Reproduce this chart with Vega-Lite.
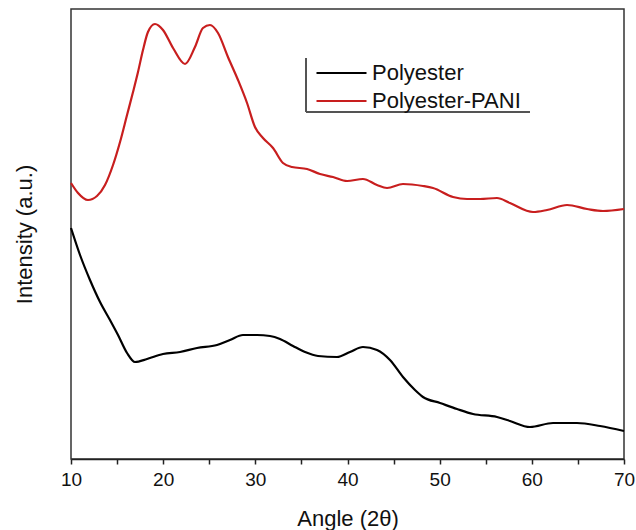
{
  "$schema": "https://vega.github.io/schema/vega-lite/v6.json",
  "width": 553,
  "height": 450,
  "autosize": {"type": "none"},
  "padding": {"left": 71, "top": 9, "right": 12, "bottom": 71},
  "background": "white",
  "config": {
    "view": {"stroke": "#333333", "strokeWidth": 1.5},
    "font": "Liberation Sans"
  },
  "data": {
    "values": [
      {"angle": 10.00, "intensity": 276, "sample": "Polyester-PANI"},
      {"angle": 10.76, "intensity": 266, "sample": "Polyester-PANI"},
      {"angle": 11.84, "intensity": 259, "sample": "Polyester-PANI"},
      {"angle": 12.82, "intensity": 263, "sample": "Polyester-PANI"},
      {"angle": 13.69, "intensity": 274, "sample": "Polyester-PANI"},
      {"angle": 14.56, "intensity": 294, "sample": "Polyester-PANI"},
      {"angle": 15.32, "intensity": 317, "sample": "Polyester-PANI"},
      {"angle": 16.08, "intensity": 344, "sample": "Polyester-PANI"},
      {"angle": 16.73, "intensity": 367, "sample": "Polyester-PANI"},
      {"angle": 17.27, "intensity": 387, "sample": "Polyester-PANI"},
      {"angle": 17.81, "intensity": 409, "sample": "Polyester-PANI"},
      {"angle": 18.35, "intensity": 427, "sample": "Polyester-PANI"},
      {"angle": 19.11, "intensity": 435, "sample": "Polyester-PANI"},
      {"angle": 19.98, "intensity": 429, "sample": "Polyester-PANI"},
      {"angle": 21.07, "intensity": 411, "sample": "Polyester-PANI"},
      {"angle": 22.37, "intensity": 395, "sample": "Polyester-PANI"},
      {"angle": 23.45, "intensity": 412, "sample": "Polyester-PANI"},
      {"angle": 24.32, "intensity": 431, "sample": "Polyester-PANI"},
      {"angle": 25.08, "intensity": 434, "sample": "Polyester-PANI"},
      {"angle": 25.95, "intensity": 426, "sample": "Polyester-PANI"},
      {"angle": 27.03, "intensity": 402, "sample": "Polyester-PANI"},
      {"angle": 28.12, "intensity": 379, "sample": "Polyester-PANI"},
      {"angle": 29.10, "intensity": 356, "sample": "Polyester-PANI"},
      {"angle": 29.96, "intensity": 332, "sample": "Polyester-PANI"},
      {"angle": 30.83, "intensity": 321, "sample": "Polyester-PANI"},
      {"angle": 31.92, "intensity": 311, "sample": "Polyester-PANI"},
      {"angle": 33.00, "intensity": 296, "sample": "Polyester-PANI"},
      {"angle": 33.98, "intensity": 292, "sample": "Polyester-PANI"},
      {"angle": 35.61, "intensity": 290, "sample": "Polyester-PANI"},
      {"angle": 37.02, "intensity": 285, "sample": "Polyester-PANI"},
      {"angle": 38.43, "intensity": 282, "sample": "Polyester-PANI"},
      {"angle": 39.95, "intensity": 278, "sample": "Polyester-PANI"},
      {"angle": 41.68, "intensity": 280, "sample": "Polyester-PANI"},
      {"angle": 43.20, "intensity": 274, "sample": "Polyester-PANI"},
      {"angle": 44.29, "intensity": 271, "sample": "Polyester-PANI"},
      {"angle": 46.02, "intensity": 275, "sample": "Polyester-PANI"},
      {"angle": 48.19, "intensity": 273, "sample": "Polyester-PANI"},
      {"angle": 49.28, "intensity": 271, "sample": "Polyester-PANI"},
      {"angle": 51.45, "intensity": 262, "sample": "Polyester-PANI"},
      {"angle": 52.97, "intensity": 260, "sample": "Polyester-PANI"},
      {"angle": 54.38, "intensity": 260, "sample": "Polyester-PANI"},
      {"angle": 56.22, "intensity": 261, "sample": "Polyester-PANI"},
      {"angle": 57.63, "intensity": 256, "sample": "Polyester-PANI"},
      {"angle": 60.13, "intensity": 247, "sample": "Polyester-PANI"},
      {"angle": 61.65, "intensity": 249, "sample": "Polyester-PANI"},
      {"angle": 63.82, "intensity": 254, "sample": "Polyester-PANI"},
      {"angle": 65.99, "intensity": 250, "sample": "Polyester-PANI"},
      {"angle": 67.72, "intensity": 248, "sample": "Polyester-PANI"},
      {"angle": 70.00, "intensity": 250, "sample": "Polyester-PANI"},
      {"angle": 10.00, "intensity": 231, "sample": "Polyester"},
      {"angle": 10.98, "intensity": 204, "sample": "Polyester"},
      {"angle": 12.06, "intensity": 179, "sample": "Polyester"},
      {"angle": 13.15, "intensity": 157, "sample": "Polyester"},
      {"angle": 14.23, "intensity": 139, "sample": "Polyester"},
      {"angle": 15.10, "intensity": 124, "sample": "Polyester"},
      {"angle": 16.08, "intensity": 106, "sample": "Polyester"},
      {"angle": 16.94, "intensity": 97, "sample": "Polyester"},
      {"angle": 18.25, "intensity": 100, "sample": "Polyester"},
      {"angle": 19.98, "intensity": 105, "sample": "Polyester"},
      {"angle": 21.83, "intensity": 107, "sample": "Polyester"},
      {"angle": 23.67, "intensity": 111, "sample": "Polyester"},
      {"angle": 25.84, "intensity": 114, "sample": "Polyester"},
      {"angle": 27.25, "intensity": 119, "sample": "Polyester"},
      {"angle": 28.66, "intensity": 124, "sample": "Polyester"},
      {"angle": 30.18, "intensity": 124, "sample": "Polyester"},
      {"angle": 31.59, "intensity": 123, "sample": "Polyester"},
      {"angle": 32.68, "intensity": 120, "sample": "Polyester"},
      {"angle": 34.09, "intensity": 113, "sample": "Polyester"},
      {"angle": 35.39, "intensity": 107, "sample": "Polyester"},
      {"angle": 36.80, "intensity": 103, "sample": "Polyester"},
      {"angle": 38.86, "intensity": 102, "sample": "Polyester"},
      {"angle": 40.27, "intensity": 107, "sample": "Polyester"},
      {"angle": 41.68, "intensity": 112, "sample": "Polyester"},
      {"angle": 43.20, "intensity": 109, "sample": "Polyester"},
      {"angle": 44.61, "intensity": 99, "sample": "Polyester"},
      {"angle": 46.02, "intensity": 82, "sample": "Polyester"},
      {"angle": 47.32, "intensity": 69, "sample": "Polyester"},
      {"angle": 48.19, "intensity": 62, "sample": "Polyester"},
      {"angle": 50.04, "intensity": 56, "sample": "Polyester"},
      {"angle": 51.88, "intensity": 50, "sample": "Polyester"},
      {"angle": 53.62, "intensity": 45, "sample": "Polyester"},
      {"angle": 56.22, "intensity": 42, "sample": "Polyester"},
      {"angle": 57.63, "intensity": 38, "sample": "Polyester"},
      {"angle": 59.80, "intensity": 32, "sample": "Polyester"},
      {"angle": 62.30, "intensity": 36, "sample": "Polyester"},
      {"angle": 64.90, "intensity": 36, "sample": "Polyester"},
      {"angle": 67.40, "intensity": 33, "sample": "Polyester"},
      {"angle": 70.00, "intensity": 28, "sample": "Polyester"}
    ]
  },
  "encoding": {
    "x": {
      "type": "quantitative",
      "scale": {"domain": [10, 70], "nice": false, "zero": false},
      "axis": {
        "title": "Angle (2θ)",
        "values": [10, 15, 20, 25, 30, 35, 40, 45, 50, 55, 60, 65, 70],
        "labelExpr": "datum.value % 10 === 0 ? datum.label : ''",
        "grid": false,
        "domainColor": "#222222",
        "domainWidth": 1.5,
        "tickColor": "#222222",
        "tickWidth": 1.5,
        "tickSize": 5,
        "labelFontSize": 19,
        "labelColor": "#111111",
        "labelPadding": 6,
        "labelFlush": false,
        "titleFontSize": 22,
        "titleFontWeight": "normal",
        "titleColor": "#111111",
        "titlePadding": 19
      }
    },
    "y": {
      "type": "quantitative",
      "scale": {"domain": [0, 450], "nice": false},
      "axis": {
        "title": "Intensity (a.u.)",
        "labels": false,
        "ticks": false,
        "grid": false,
        "domain": false,
        "titleFontSize": 22,
        "titleFontWeight": "normal",
        "titleColor": "#111111",
        "titlePadding": 35
      }
    }
  },
  "layer": [
    {
      "mark": {"type": "line", "interpolate": "monotone", "strokeWidth": 2.2},
      "encoding": {
        "x": {"field": "angle", "type": "quantitative"},
        "y": {"field": "intensity", "type": "quantitative"},
        "color": {
          "field": "sample",
          "type": "nominal",
          "scale": {"domain": ["Polyester", "Polyester-PANI"], "range": ["#000000", "#c81e1e"]},
          "legend": {
            "title": null,
            "orient": "none",
            "legendX": 244,
            "legendY": 53,
            "padding": 0,
            "symbolType": "stroke",
            "symbolSize": 2500,
            "symbolStrokeWidth": 2.2,
            "clipHeight": 22,
            "rowPadding": 6,
            "labelFontSize": 22,
            "labelColor": "#111111",
            "labelOffset": 4
          }
        }
      }
    },
    {
      "description": "Legend frame: left edge",
      "mark": {"type": "rule", "color": "#555555", "strokeWidth": 1.2},
      "encoding": {
        "x": {"datum": 35.5},
        "y": {"datum": 401},
        "y2": {"datum": 347}
      }
    },
    {
      "description": "Legend frame: bottom edge",
      "mark": {"type": "rule", "color": "#555555", "strokeWidth": 1.2},
      "encoding": {
        "x": {"datum": 35.5},
        "x2": {"datum": 59.8},
        "y": {"datum": 347}
      }
    }
  ]
}
